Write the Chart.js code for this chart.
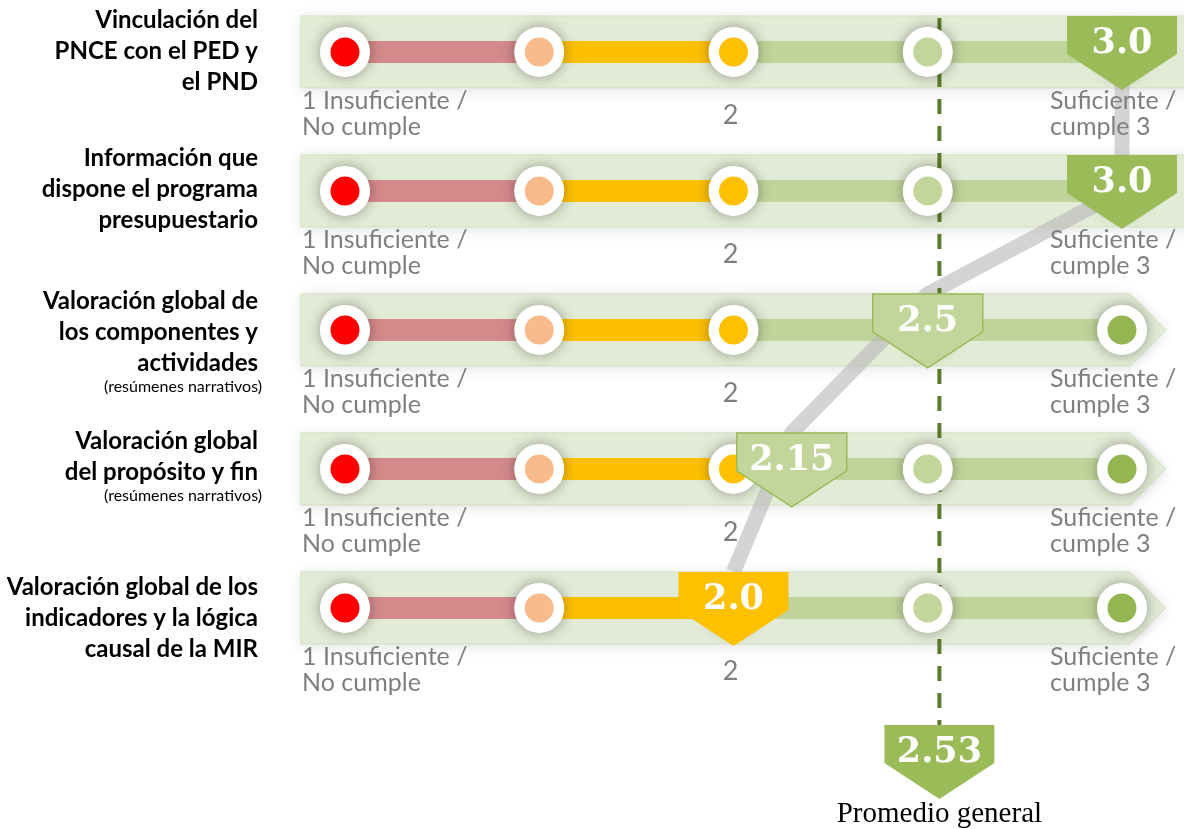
<!DOCTYPE html>
<html>
<head>
<meta charset="utf-8">
<script src="https://cdn.jsdelivr.net/npm/chart.js@4.4.1/dist/chart.umd.min.js"></script>
<style>
html,body{margin:0;padding:0;background:#fff;overflow:hidden}
#wrap{position:relative;width:1184px;height:829px}
canvas{display:block}
</style>
</head>
<body>
<div id="wrap"><canvas id="c" width="1184" height="829"></canvas></div>
<script>
// ---------- DATA ----------
const categories = [
  ["Vinculación del", "PNCE con el PED y", "el PND"],
  ["Información que", "dispone el programa", "presupuestario"],
  ["Valoración global de", "los componentes y", "actividades"],
  ["Valoración global", "del propósito y fin"],
  ["Valoración global de los", "indicadores y la lógica", "causal de la MIR"]
];
const subLabels = ["", "", "(resúmenes narrativos)", "(resúmenes narrativos)", ""];
const scores = [3.0, 3.0, 2.5, 2.15, 2.0];
const scoreLabels = ["3.0", "3.0", "2.5", "2.15", "2.0"];
const averageScore = 2.53;
const averageLabel = "2.53";
const averageTitle = "Promedio general";
const scaleLevels = [1, 1.5, 2, 2.5, 3];
const lowLabel = ["1 Insuficiente /", "No cumple"];
const midLabel = "2";
const highLabel = ["Suficiente /", "cumple 3"];

// ---------- STYLE / LAYOUT ----------
const W = 1184, H = 829;
const xUnit = 388.5, xAt1 = 345;     // pixel layout of the score scale
const yUnit = 139, yAt0 = 51.9;      // pixel layout of the rows
const levelColors = ["#ff0000", "#f9bb8b", "#ffc000", "#c2d69b", "#93b653"];
const markerKinds = ["dark", "dark", "light", "light", "gold"];
const markerFill = { dark: "#9bbb59", light: "#c2d69b", gold: "#ffc000" };
const markerStroke = { dark: null, light: "#9bbb59", gold: null };
const connectorOffsets = [0, 0, -0.26, -0.26, -0.26];
const labelFirstLine = [-32, -33, -29, -28, -21];
const fullWidthBand = [true, true, false, false, false];
const OUTER_R = 25;

function segColor(x) {
  if (x < 1.5) return "#d4898a";
  if (x < 2) return "#fdc000";
  return "#bfd49a";
}

// ---------- DATASETS ----------
const trackSets = categories.map((_, i) => ({
  type: "line",
  label: "track" + i,
  data: scaleLevels.map(l => ({ x: l, y: i })),
  borderWidth: 22,
  borderCapStyle: "butt",
  borderColor: "#bfd49a",
  segment: { borderColor: c => segColor(c.p0.parsed.x) },
  pointRadius: 0,
  order: 5,
  clip: false
}));

const connectorSet = {
  type: "line",
  label: "connector",
  data: scores.map((s, i) => ({ x: s, y: i + connectorOffsets[i] })),
  borderColor: "rgba(185,185,185,0.62)",
  borderWidth: 15,
  borderJoinStyle: "round",
  borderCapStyle: "butt",
  pointRadius: 0,
  order: 4,
  clip: false
};

const circleData = [];
categories.forEach((_, i) => scaleLevels.forEach(l => circleData.push({ x: l, y: i })));
const circleSet = {
  type: "scatter",
  label: "circles",
  data: circleData,
  pointRadius: OUTER_R - 5.25,
  pointBorderWidth: 10.5,
  pointBorderColor: "#ffffff",
  pointBackgroundColor: c => levelColors[scaleLevels.indexOf(c.raw.x)],
  order: 3,
  clip: false
};

// ---------- PLUGINS ----------
const bandsPlugin = {
  id: "bands",
  beforeDatasetsDraw(chart) {
    const ctx = chart.ctx, xs = chart.scales.x, ys = chart.scales.y;
    categories.forEach((_, i) => {
      const cy = ys.getPixelForValue(i);
      const left = xs.getPixelForValue(1) - 44;
      const top = cy - 36, bot = cy + 36;
      ctx.save();
      ctx.beginPath();
      if (fullWidthBand[i]) {
        ctx.rect(left, top, chart.width - left + 20, 72);
      } else {
        const r = xs.getPixelForValue(3) + 8;
        ctx.moveTo(left, top); ctx.lineTo(r, top); ctx.lineTo(r + 36, cy);
        ctx.lineTo(r, bot); ctx.lineTo(left, bot); ctx.closePath();
      }
      ctx.shadowColor = "rgba(0,0,0,0.13)";
      ctx.shadowBlur = 14;
      ctx.shadowOffsetY = 2;
      ctx.fillStyle = "#e2ebd5";
      ctx.fill();
      ctx.shadowColor = "transparent";
      ctx.strokeStyle = "#d3e0c0";
      ctx.lineWidth = 1;
      ctx.stroke();
      ctx.restore();
    });
  }
};

function averageTop(chart) {
  return chart.scales.y.getPixelForValue(categories.length - 1) + 117;
}

const circleShadowPlugin = {
  id: "circleShadow",
  beforeDatasetDraw(chart, args) {
    const ds = chart.data.datasets[args.index];
    if (ds.label !== "circles") return;
    const ctx = chart.ctx, xs = chart.scales.x, ys = chart.scales.y;
    // dashed average line
    const ax = xs.getPixelForValue(averageScore);
    ctx.save();
    ctx.strokeStyle = "#5b7a2c";
    ctx.lineWidth = 4;
    ctx.setLineDash([15, 12]);
    ctx.beginPath();
    ctx.moveTo(ax, ys.getPixelForValue(0) - 34);
    ctx.lineTo(ax, averageTop(chart));
    ctx.stroke();
    ctx.restore();
    // soft shadows under the circles
    const meta = chart.getDatasetMeta(args.index);
    ctx.save();
    ctx.shadowColor = "rgba(0,0,0,0.38)";
    ctx.shadowBlur = 14;
    ctx.fillStyle = "#ffffff";
    meta.data.forEach(pt => {
      ctx.beginPath();
      ctx.arc(pt.x, pt.y, OUTER_R - 0.5, 0, Math.PI * 2);
      ctx.fill();
    });
    ctx.restore();
  }
};

function drawMarker(ctx, cx, top, fill, stroke, text) {
  const w = 110, rh = 38, th = 36;
  ctx.save();
  ctx.beginPath();
  ctx.moveTo(cx - w / 2, top);
  ctx.lineTo(cx + w / 2, top);
  ctx.lineTo(cx + w / 2, top + rh);
  ctx.lineTo(cx, top + rh + th);
  ctx.lineTo(cx - w / 2, top + rh);
  ctx.closePath();
  ctx.fillStyle = fill;
  ctx.fill();
  if (stroke) { ctx.strokeStyle = stroke; ctx.lineWidth = 1.5; ctx.stroke(); }
  ctx.fillStyle = "#ffffff";
  ctx.font = 'bold 35px "DejaVu Serif"';
  ctx.textAlign = "center";
  ctx.textBaseline = "alphabetic";
  ctx.fillText(text, cx, top + rh - 1);
  ctx.restore();
}

const overlayPlugin = {
  id: "overlay",
  afterDatasetsDraw(chart) {
    const ctx = chart.ctx, xs = chart.scales.x, ys = chart.scales.y;
    ctx.save();
    categories.forEach((lines, i) => {
      const cy = ys.getPixelForValue(i);
      // scale labels
      ctx.fillStyle = "#7f7f7f";
      ctx.textBaseline = "middle";
      ctx.font = '25px Lato';
      ctx.textAlign = "left";
      const lx = xs.getPixelForValue(1) - 43;
      ctx.fillText(lowLabel[0], lx, cy + 49);
      ctx.fillText(lowLabel[1], lx, cy + 75);
      const hx = xs.getPixelForValue(3) - 72;
      ctx.fillText(highLabel[0], hx, cy + 49);
      ctx.fillText(highLabel[1], hx, cy + 75);
      ctx.textAlign = "center";
      ctx.font = '27px Lato';
      ctx.fillText(midLabel, xs.getPixelForValue(2) - 3, cy + 63);
      // category labels
      ctx.fillStyle = "#000000";
      ctx.textAlign = "right";
      ctx.font = 'bold 24px Lato';
      let y = cy + labelFirstLine[i];
      lines.forEach(t => { ctx.fillText(t, 258, y); y += 31; });
      if (subLabels[i]) {
        ctx.font = '16px Lato';
        ctx.fillText(subLabels[i], 262, y - 7);
      }
    });
    ctx.restore();
    // score markers
    scores.forEach((s, i) => {
      const cy = ys.getPixelForValue(i);
      const k = markerKinds[i];
      drawMarker(ctx, xs.getPixelForValue(s), cy - 36, markerFill[k], markerStroke[k], scoreLabels[i]);
    });
    // average marker
    const ax = xs.getPixelForValue(averageScore);
    const at = averageTop(chart);
    drawMarker(ctx, ax, at, markerFill.dark, null, averageLabel);
    ctx.save();
    ctx.fillStyle = "#000000";
    ctx.font = '29px "Liberation Serif"';
    ctx.textAlign = "center";
    ctx.textBaseline = "middle";
    ctx.fillText(averageTitle, ax, at + 89);
    ctx.restore();
  }
};

// ---------- CHART ----------
const xMin = 1 - xAt1 / xUnit;
const yMin = -yAt0 / yUnit;
new Chart(document.getElementById("c"), {
  type: "scatter",
  data: { datasets: [...trackSets, connectorSet, circleSet] },
  options: {
    responsive: false,
    animation: false,
    devicePixelRatio: 1,
    events: [],
    layout: { padding: 0, autoPadding: false },
    plugins: { legend: { display: false }, tooltip: { enabled: false }, title: { display: false } },
    scales: {
      x: { type: "linear", display: false, min: xMin, max: xMin + W / xUnit },
      y: { type: "linear", display: false, reverse: true, min: yMin, max: yMin + H / yUnit }
    }
  },
  plugins: [bandsPlugin, circleShadowPlugin, overlayPlugin]
});
</script>
</body>
</html>
